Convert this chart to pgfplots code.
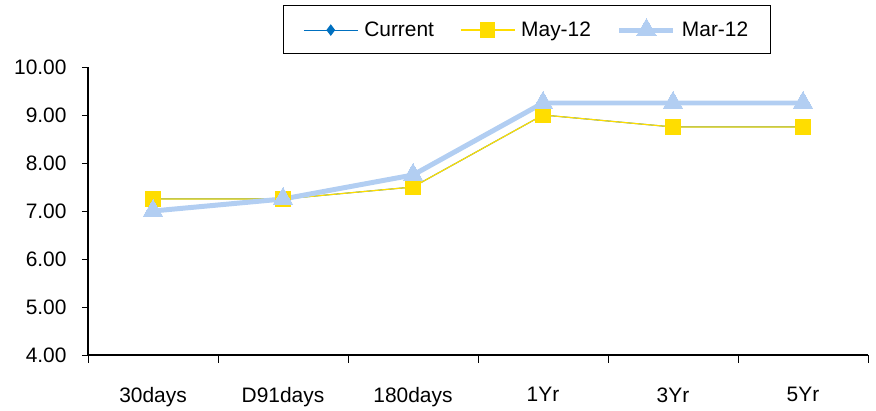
\documentclass[border=0pt]{standalone}
\usepackage{pgfplots}
\pgfplotsset{compat=1.18}
\usepackage{fontspec}
\setmainfont{Liberation Sans}
\definecolor{curblue}{RGB}{0,112,192}
\definecolor{mayyellow}{RGB}{255,221,0}
\definecolor{marblue}{RGB}{178,206,242}
\begin{document}
\begin{tikzpicture}
\path (0,0) rectangle (876bp,410bp);
\begin{axis}[
  at={(88bp,55bp)}, anchor=south west,
  scale only axis, width=780bp, height=288bp,
  xmin=-0.5, xmax=5.5, ymin=4, ymax=10,
  axis lines=left, axis line style={-, line width=1.2pt},
  xtick={0,...,5},
  xticklabels={30days,D91days,180days,1Yr,3Yr,5Yr},
  major x tick style={draw=none},
  minor xtick={-0.5,0.5,...,5.5},
  minor tick length=8bp,
  ytick={4,5,...,10},
  major tick length=6bp,
  tick align=outside,
  tick style={black, line width=0.8pt},
  xticklabel style={yshift=-23bp},
  yticklabel style={xshift=-12bp},
  /pgf/number format/assume math mode=true,
  yticklabel={\pgfmathprintnumber[fixed,fixed zerofill,precision=2]{\tick}},
  tick label style={font=\fontsize{21}{25}\selectfont},
  clip=false,
  legend columns=3,
  legend style={at={(0.5625,1.215)}, anchor=north, draw=black, line width=1pt,
    font=\fontsize{21}{25}\selectfont, inner xsep=20bp, inner ysep=13bp,
    /tikz/every odd column/.append style={column sep=4bp},
    /tikz/every even column/.append style={column sep=24bp}},
  legend image code/.code={%
    \draw[mark repeat=2,mark phase=2] plot coordinates {(0bp,0bp) (27bp,0bp) (54bp,0bp)};},
  legend cell align=left,
]
\addplot[curblue, line width=1pt, mark=diamond*, mark size=5bp, mark options={solid}]
  coordinates {(0,7.25) (1,7.25) (2,7.5) (3,9.0) (4,8.75) (5,8.75)};
\addlegendentry{Current}
\addplot[mayyellow, line width=1.2pt, mark=square*, mark size=7bp]
  coordinates {(0,7.25) (1,7.25) (2,7.5) (3,9.0) (4,8.75) (5,8.75)};
\addlegendentry{May-12}
\addplot[marblue, line width=5pt, mark=triangle*, mark size=11.5bp, mark options={line width=0pt}]
  coordinates {(0,7.0) (1,7.25) (2,7.75) (3,9.25) (4,9.25) (5,9.25)};
\addlegendentry{Mar-12}
\end{axis}
\end{tikzpicture}
\end{document}
